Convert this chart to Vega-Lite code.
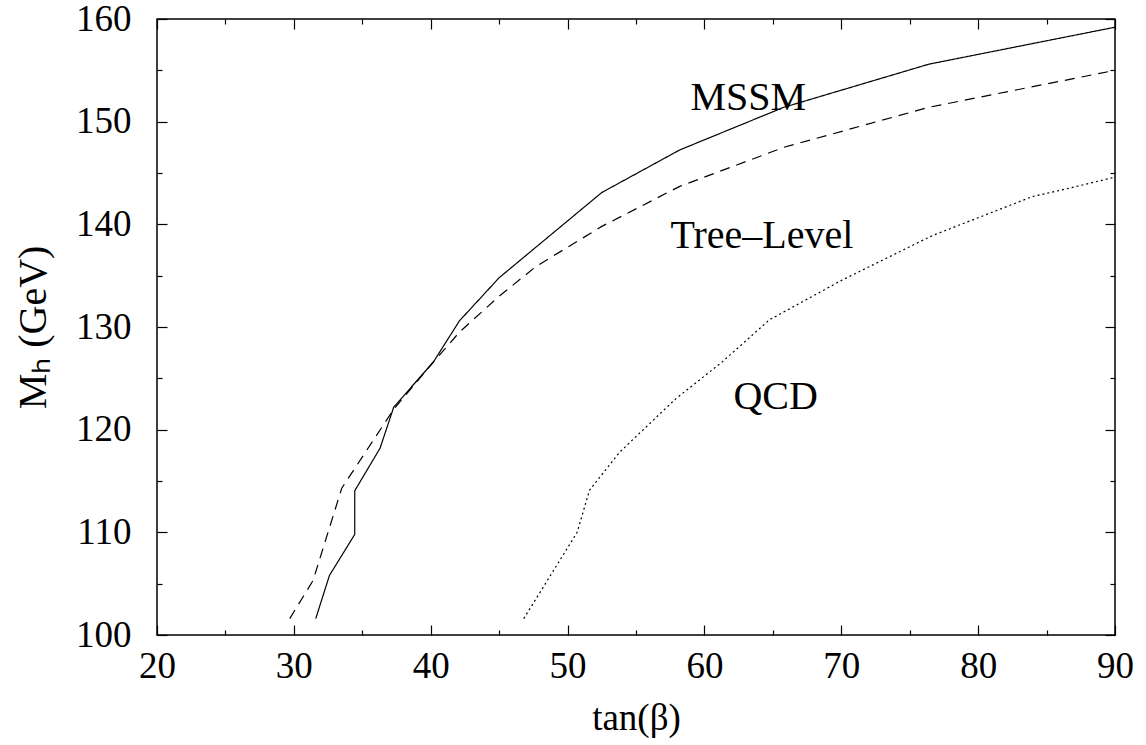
{
  "$schema": "https://vega.github.io/schema/vega-lite/v6.json",
  "width": 958,
  "height": 616,
  "autosize": {"type": "none"},
  "padding": {"left": 157, "top": 19, "right": 31, "bottom": 110},
  "background": "white",
  "config": {
    "view": {"stroke": "black", "strokeWidth": 1.5},
    "font": "Liberation Serif",
    "axis": {
      "domain": false,
      "grid": false,
      "tickColor": "black",
      "tickWidth": 1.2,
      "labelColor": "black",
      "titleColor": "black",
      "labelFont": "Liberation Serif",
      "titleFont": "Liberation Serif",
      "labelFontSize": 37,
      "titleFontSize": 37,
      "titleFontWeight": "normal",
      "labelOverlap": false
    }
  },
  "datasets": {
    "curves": [
      {"series": "MSSM", "i": 1, "tanb": 31.6, "mh": 101.6},
      {"series": "MSSM", "i": 2, "tanb": 32.6, "mh": 105.8},
      {"series": "MSSM", "i": 3, "tanb": 34.45, "mh": 109.8},
      {"series": "MSSM", "i": 4, "tanb": 34.45, "mh": 114.05},
      {"series": "MSSM", "i": 5, "tanb": 36.3, "mh": 118.2},
      {"series": "MSSM", "i": 6, "tanb": 37.3, "mh": 122.2},
      {"series": "MSSM", "i": 7, "tanb": 40.2, "mh": 126.6},
      {"series": "MSSM", "i": 8, "tanb": 42.1, "mh": 130.6},
      {"series": "MSSM", "i": 9, "tanb": 45.0, "mh": 134.8},
      {"series": "MSSM", "i": 10, "tanb": 52.5, "mh": 143.1},
      {"series": "MSSM", "i": 11, "tanb": 58.2, "mh": 147.25},
      {"series": "MSSM", "i": 12, "tanb": 65.8, "mh": 151.4},
      {"series": "MSSM", "i": 13, "tanb": 76.4, "mh": 155.6},
      {"series": "MSSM", "i": 14, "tanb": 90.0, "mh": 159.2},
      {"series": "Tree-Level", "i": 1, "tanb": 29.7, "mh": 101.6},
      {"series": "Tree-Level", "i": 2, "tanb": 31.4, "mh": 105.3},
      {"series": "Tree-Level", "i": 3, "tanb": 33.5, "mh": 114.3},
      {"series": "Tree-Level", "i": 4, "tanb": 37.3, "mh": 122.0},
      {"series": "Tree-Level", "i": 5, "tanb": 40.2, "mh": 126.6},
      {"series": "Tree-Level", "i": 6, "tanb": 42.1, "mh": 129.5},
      {"series": "Tree-Level", "i": 7, "tanb": 45.0, "mh": 133.0},
      {"series": "Tree-Level", "i": 8, "tanb": 47.7, "mh": 135.9},
      {"series": "Tree-Level", "i": 9, "tanb": 52.5, "mh": 139.8},
      {"series": "Tree-Level", "i": 10, "tanb": 58.2, "mh": 143.7},
      {"series": "Tree-Level", "i": 11, "tanb": 65.8, "mh": 147.5},
      {"series": "Tree-Level", "i": 12, "tanb": 76.4, "mh": 151.4},
      {"series": "Tree-Level", "i": 13, "tanb": 90.0, "mh": 155.0},
      {"series": "QCD", "i": 1, "tanb": 46.8, "mh": 101.6},
      {"series": "QCD", "i": 2, "tanb": 50.7, "mh": 110.0},
      {"series": "QCD", "i": 3, "tanb": 51.6, "mh": 114.1},
      {"series": "QCD", "i": 4, "tanb": 53.8, "mh": 117.8},
      {"series": "QCD", "i": 5, "tanb": 57.9, "mh": 123.0},
      {"series": "QCD", "i": 6, "tanb": 61.3, "mh": 126.6},
      {"series": "QCD", "i": 7, "tanb": 64.75, "mh": 130.7},
      {"series": "QCD", "i": 8, "tanb": 70.1, "mh": 134.6},
      {"series": "QCD", "i": 9, "tanb": 76.65, "mh": 138.9},
      {"series": "QCD", "i": 10, "tanb": 83.95, "mh": 142.7},
      {"series": "QCD", "i": 11, "tanb": 86.6, "mh": 143.5},
      {"series": "QCD", "i": 12, "tanb": 90.0, "mh": 144.6}
    ],
    "labels": [
      {"text": "MSSM", "tanb": 63.2, "mh": 151.1},
      {"text": "Tree–Level", "tanb": 64.2, "mh": 137.65},
      {"text": "QCD", "tanb": 65.2, "mh": 122.0}
    ]
  },
  "resolve": {"axis": {"x": "independent", "y": "independent"}},
  "layer": [
    {
      "data": {"name": "curves"},
      "mark": {"type": "line", "color": "black", "strokeWidth": 1.2, "clip": true},
      "encoding": {
        "x": {
          "field": "tanb", "type": "quantitative",
          "scale": {"domain": [20, 90], "nice": false, "zero": false},
          "axis": {
            "orient": "bottom",
            "title": "tan(β)",
            "values": [20, 25, 30, 35, 40, 45, 50, 55, 60, 65, 70, 75, 80, 85, 90],
            "labelExpr": "datum.value % 10 === 0 ? datum.label : ''",
            "tickSize": {"condition": {"test": "datum.value % 10 === 0", "value": -10}, "value": -5},
            "labelPadding": 23,
            "titlePadding": 11,
            "labelFlush": false
          }
        },
        "y": {
          "field": "mh", "type": "quantitative",
          "scale": {"domain": [100, 160], "nice": false, "zero": false},
          "axis": {
            "orient": "left",
            "title": "Mₕ (GeV)",
            "titleFontSize": 40,
            "values": [100, 105, 110, 115, 120, 125, 130, 135, 140, 145, 150, 155, 160],
            "labelExpr": "datum.value % 10 === 0 ? datum.label : ''",
            "tickSize": {"condition": {"test": "datum.value % 10 === 0", "value": -10}, "value": -5},
            "labelPadding": 36,
            "titlePadding": 22,
            "labelFlush": false
          }
        },
        "detail": {"field": "series"},
        "order": {"field": "i", "type": "quantitative"},
        "strokeDash": {
          "field": "series", "type": "nominal", "legend": null,
          "scale": {"domain": ["MSSM", "Tree-Level", "QCD"], "range": [[1, 0], [10, 7], [2, 3]]}
        }
      }
    },
    {
      "data": {"name": "labels"},
      "mark": {"type": "text", "fontSize": 40, "font": "Liberation Serif", "color": "black", "align": "center", "baseline": "alphabetic"},
      "encoding": {
        "x": {
          "field": "tanb", "type": "quantitative",
          "scale": {"domain": [20, 90], "nice": false, "zero": false},
          "axis": {
            "orient": "top",
            "title": null,
            "labels": false,
            "values": [20, 25, 30, 35, 40, 45, 50, 55, 60, 65, 70, 75, 80, 85, 90],
            "tickSize": {"condition": {"test": "datum.value % 10 === 0", "value": -10}, "value": -5}
          }
        },
        "y": {
          "field": "mh", "type": "quantitative",
          "scale": {"domain": [100, 160], "nice": false, "zero": false},
          "axis": {
            "orient": "right",
            "title": null,
            "labels": false,
            "values": [100, 105, 110, 115, 120, 125, 130, 135, 140, 145, 150, 155, 160],
            "tickSize": {"condition": {"test": "datum.value % 10 === 0", "value": -10}, "value": -5}
          }
        },
        "text": {"field": "text"}
      }
    }
  ]
}
